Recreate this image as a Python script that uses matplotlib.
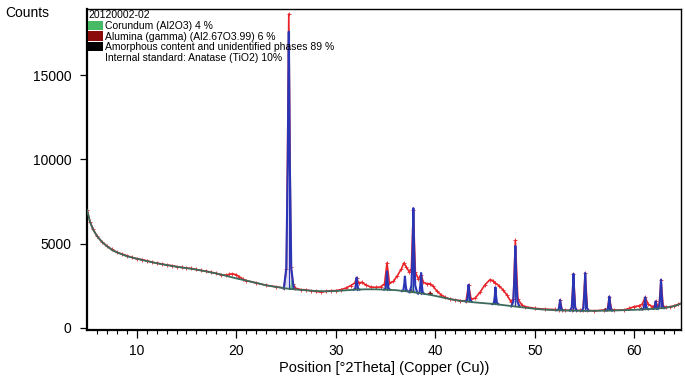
import matplotlib.pyplot as plt
from matplotlib.patches import Patch
import numpy as np

plt.rcParams['font.family'] = ['Liberation Sans', 'DejaVu Sans']

########## Data
# fitted background (dark line along the bottom)
bg_x = [5.0, 5.3, 5.6, 6.0, 6.5, 7.0, 7.5, 8.0, 9.0, 10, 11, 12, 13, 14, 15, 16, 17, 18, 19, 20,
        21, 22, 23, 24, 25, 26, 27, 28, 29, 30, 31, 32, 33, 34, 35, 36, 37, 38, 39, 40,
        41, 42, 43, 44, 45, 46, 47, 48, 49, 50, 51, 52, 53, 54, 55, 56, 57, 58, 59, 60,
        61, 62, 63, 64, 64.7]
bg_y = [7000, 6300, 5850, 5450, 5100, 4850, 4620, 4480, 4250, 4100, 3960, 3830, 3720, 3620, 3540, 3450, 3340, 3220, 3080, 2930,
        2800, 2660, 2520, 2420, 2330, 2270, 2220, 2180, 2160, 2180, 2220, 2260, 2280, 2280, 2260, 2230, 2170, 2090, 2000, 1890,
        1760, 1640, 1560, 1500, 1450, 1400, 1330, 1260, 1190, 1120, 1070, 1040, 1020, 1010, 1000, 1000, 1010, 1020, 1040, 1060,
        1090, 1120, 1170, 1280, 1420]

# observed counts (red)
obs_x = [5.0, 5.3, 5.6, 6.0, 6.5, 7.0, 7.5, 8.0, 8.5, 9.0, 9.5, 10, 10.5, 11, 11.5, 12, 12.5, 13, 13.5, 14,
         14.5, 15, 15.5, 16, 16.5, 17, 17.5, 18, 18.5, 19, 19.3, 19.6, 20.0, 20.3, 20.7, 21, 22, 23, 24, 24.8,
         25.05, 25.28, 25.5, 25.7, 25.95, 26.5, 27, 27.5, 28, 28.5, 29, 29.5, 30, 30.5, 31, 31.5, 31.9, 32.1, 32.3, 32.6,
         33.0, 33.5, 34, 34.5, 34.9, 35.15, 35.4, 35.8, 36.2, 36.6, 36.85, 37.1, 37.4, 37.6, 37.8, 38.0, 38.3, 38.58, 38.8, 39.2,
         39.5, 39.8, 40.2, 40.6, 41, 41.5, 42, 42.5, 43.1, 43.35, 43.6, 44.0, 44.5, 45.0, 45.5, 45.8, 46.05, 46.4, 46.8, 47.2,
         47.6, 47.85, 48.05, 48.3, 48.7, 49, 50, 51, 52, 52.4, 52.55, 52.75, 53, 53.7, 53.89, 54.1, 54.5, 54.85, 55.07, 55.3,
         56, 57, 57.3, 57.5, 57.7, 58, 59, 59.5, 60, 60.5, 60.8, 61.1, 61.4, 61.8, 62.05, 62.15, 62.3, 62.5, 62.69, 62.9,
         63.2, 63.6, 64, 64.4, 64.7]
obs_y = [7000, 6300, 5850, 5450, 5100, 4850, 4650, 4480, 4380, 4280, 4180, 4100, 4050, 3980, 3900, 3840, 3790, 3730, 3690, 3630,
         3580, 3550, 3520, 3460, 3400, 3360, 3290, 3230, 3150, 3120, 3180, 3200, 3150, 3030, 2880, 2800, 2660, 2520, 2430, 2360,
         3500, 18650, 3600, 2600, 2350, 2260, 2250, 2190, 2150, 2120, 2160, 2200, 2200, 2260, 2350, 2500, 2650, 2950, 2650, 2700,
         2550, 2420, 2400, 2420, 2600, 3850, 2650, 2750, 3100, 3500, 3850, 3600, 3300, 3500, 7000, 3300, 2900, 3150, 2700, 2600,
         2620, 2450, 2150, 1950, 1800, 1700, 1650, 1600, 1600, 2550, 1700, 1750, 2100, 2550, 2850, 2800, 2650, 2500, 2250, 1950,
         1550, 1700, 5200, 1700, 1350, 1250, 1150, 1100, 1080, 1050, 1650, 1050, 1030, 1040, 3200, 1050, 1020, 1030, 3250, 1030,
         1000, 1050, 1080, 1850, 1100, 1040, 1050, 1150, 1250, 1300, 1400, 1800, 1400, 1250, 1300, 1560, 1350, 1300, 2850, 1300,
         1200, 1220, 1300, 1380, 1450]

# calculated reflections (blue): position, top, baseline under it, half width at base
peak_pos = [25.28, 32.1, 35.15, 36.95, 37.8, 38.58, 43.35, 46.05, 48.05, 52.55, 53.89, 55.07, 57.5, 61.1, 62.15, 62.69]
peak_top = [17600, 2980, 3340, 3040, 7110, 3250, 2550, 2400, 4850, 1650, 3200, 3250, 1850, 1800, 1560, 2850]
peak_base = [2320, 2260, 2260, 2170, 2100, 2020, 1560, 1400, 1260, 1040, 1010, 1000, 1020, 1090, 1120, 1160]
peak_hw = [0.5, 0.3, 0.3, 0.3, 0.38, 0.3, 0.3, 0.3, 0.42, 0.3, 0.35, 0.35, 0.32, 0.3, 0.22, 0.32]

# corundum contribution (green)
cor_pos = [25.58, 35.15, 37.78, 43.35, 52.55, 57.5, 61.3]
cor_top = [2800, 2900, 2500, 2200, 1500, 1650, 1250]
cor_base = [2300, 2260, 2090, 1560, 1040, 1010, 1090]

# gamma alumina contribution (dark red)
gam_pos = [32.0, 37.6, 39.5, 45.9, 57.1, 60.7]
gam_top = [2420, 2300, 2150, 1560, 1150, 1200]
gam_base = [2260, 2120, 2000, 1410, 1010, 1060]

legend_labels = ['Corundum (Al2O3) 4 %',
                 'Alumina (gamma) (Al2.67O3.99) 6 %',
                 'Amorphous content and unidentified phases 89 %',
                 'Internal standard: Anatase (TiO2) 10%']
legend_colors = ['#45b964', '#8b0a0a', '#000000', 'none']
sample_name = '20120002-02'

col_obs = '#e8242a'
col_calc = '#2a35b5'
col_bg = '#3c6a5c'


def peak_shape(x0, top, base, hw):
    # simple sharp profile: base, foot, shoulder, top, shoulder, foot, base
    h = top - base
    xs = [x0 - hw, x0 - hw * 0.5, x0 - hw * 0.2, x0, x0 + hw * 0.2, x0 + hw * 0.5, x0 + hw]
    ys = [base, base + 0.08 * h, base + 0.5 * h, top, base + 0.5 * h, base + 0.08 * h, base]
    return xs, ys


########## Figure
fig = plt.figure(figsize=(6.85, 3.78), dpi=100)
ax = fig.add_axes([87 / 685, 1 - 330 / 378, (681 - 87) / 685, (330 - 9) / 378])

ax.plot(obs_x, obs_y, color=col_obs, lw=1.2, marker='+', ms=2.5, mew=0.6, zorder=2)

for x0, top, base in zip(cor_pos, cor_top, cor_base):
    xs, ys = peak_shape(x0, top, base, 0.25)
    ax.fill(xs, ys, color='#45c264', lw=0.8, zorder=3)

for x0, top, base in zip(gam_pos, gam_top, gam_base):
    xs, ys = peak_shape(x0, top, base, 0.25)
    ax.fill(xs, ys, color='#7a0c14', lw=0.6, zorder=3)

for x0, top, base, hw in zip(peak_pos, peak_top, peak_base, peak_hw):
    xs, ys = peak_shape(x0, top, base, hw)
    ax.fill(xs, ys, color='#9a9ee0', alpha=0.35, lw=0, zorder=4)
    ax.plot(xs, ys, color=col_calc, lw=1.5, zorder=4)
    ax.plot([x0, x0], [base, top], color=col_calc, lw=0.8, zorder=4)

ax.plot(bg_x, bg_y, color=col_bg, lw=1.3, zorder=5)

##### Axes styling
ax.set_xlim(5, 64.7)
ax.set_ylim(-140, 18950)
ax.set_xticks(range(10, 61, 10))
ax.set_xticks(range(6, 65), minor=True)
ax.set_yticks([0, 5000, 10000, 15000])
ax.tick_params(axis='both', which='major', direction='out', length=6, width=0.9, labelsize=10, pad=4)
ax.tick_params(axis='x', which='minor', direction='out', length=3, width=0.8)
ax.tick_params(axis='y', which='major', length=5, pad=6)
for side in ['left', 'bottom']:
    ax.spines[side].set_linewidth(1.6)
for side in ['top', 'right']:
    ax.spines[side].set_linewidth(1.0)

ax.set_xlabel('Position [°2Theta] (Copper (Cu))', fontsize=10.5, labelpad=2)
fig.text(0.008, 0.985, 'Counts', fontsize=10, ha='left', va='top')

handles = [Patch(facecolor=c, edgecolor='none') for c in legend_colors]
leg = ax.legend(handles, legend_labels, title=sample_name, loc='upper left',
                bbox_to_anchor=(0.0, 1.0), frameon=False, fontsize=7.5, title_fontsize=7.5,
                borderaxespad=0.1, borderpad=0.0, handlelength=1.4, handleheight=1.0,
                handletextpad=0.25, labelspacing=0.05, alignment='left')

plt.savefig('out.png', dpi=100)
plt.close()
